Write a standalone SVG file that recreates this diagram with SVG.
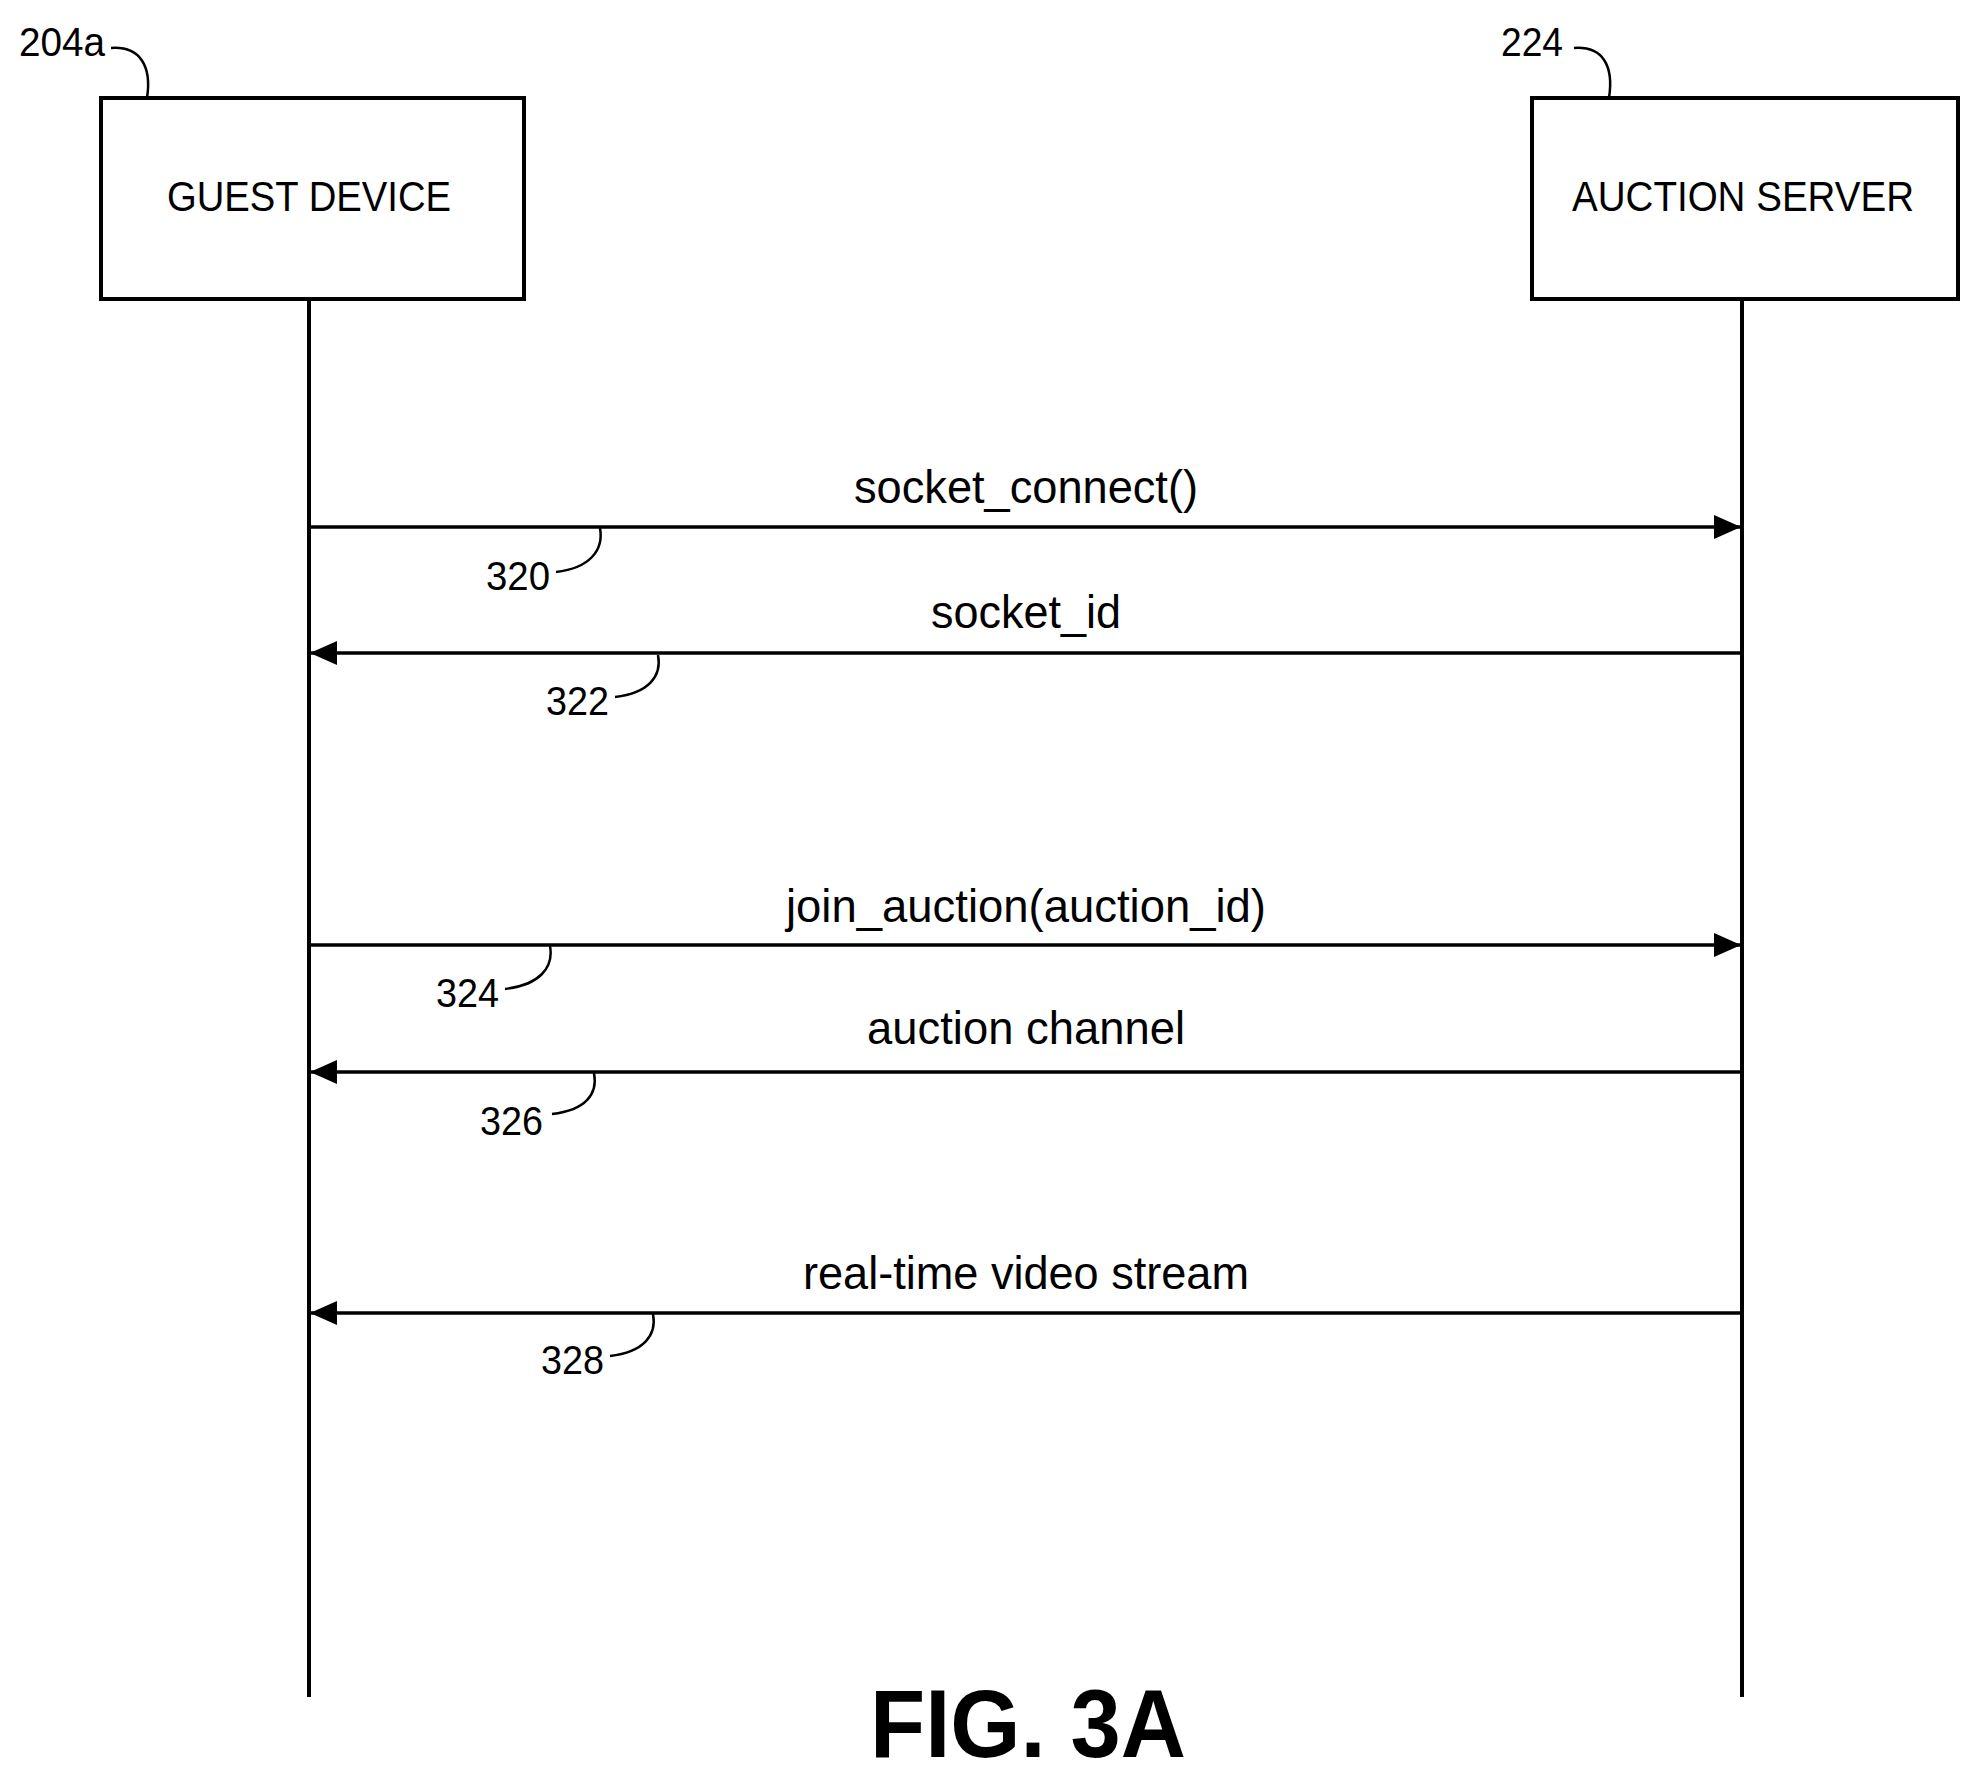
<svg xmlns="http://www.w3.org/2000/svg" width="1981" height="1777" viewBox="0 0 1981 1777">
<style>
.box{fill:#fff;stroke:#000;stroke-width:4}
.ll{stroke:#000;stroke-width:4}
.msg{stroke:#000;stroke-width:3.5}
.lead{fill:none;stroke:#000;stroke-width:2.5}
text{font-family:"Liberation Sans",Arial,sans-serif;fill:#000}
.lbl{font-size:46px}
.ref{font-size:40px}
.node{font-size:42px}
</style>
<defs>
<marker id="ah" markerWidth="28" markerHeight="24" refX="27" refY="12" orient="auto" markerUnits="userSpaceOnUse">
<path d="M0,0 L27,12 L0,24 Z" fill="#000"/>
</marker>
</defs>
<rect width="1981" height="1777" fill="#fff"/>
<g id="guest">
<rect class="box" x="101" y="98" width="423" height="201"/>
<text class="node" x="309" y="211" text-anchor="middle" textLength="284" lengthAdjust="spacingAndGlyphs">GUEST DEVICE</text>
<line class="ll" x1="309" y1="299" x2="309" y2="1697"/>
<text class="ref" x="19" y="56" textLength="86" lengthAdjust="spacingAndGlyphs">204a</text>
<path class="lead" d="M111,48 C140,46 152,66 147,98"/>
</g>
<g id="server">
<rect class="box" x="1532" y="98" width="426" height="201"/>
<text class="node" x="1743" y="211" text-anchor="middle" textLength="342" lengthAdjust="spacingAndGlyphs">AUCTION SERVER</text>
<line class="ll" x1="1742" y1="299" x2="1742" y2="1697"/>
<text class="ref" x="1501" y="56" textLength="62" lengthAdjust="spacingAndGlyphs">224</text>
<path class="lead" d="M1574,48 C1603,46 1614,66 1609,98"/>
</g>
<g id="connectors">
<line class="msg" x1="309" y1="527" x2="1741" y2="527" marker-end="url(#ah)"/>
<text class="lbl" x="1026" y="503" text-anchor="middle" textLength="344" lengthAdjust="spacingAndGlyphs">socket_connect()</text>
<text class="ref" x="486" y="590" textLength="64" lengthAdjust="spacingAndGlyphs">320</text>
<path class="lead" d="M556,572 C590,568 604,550 600,528"/>

<line class="msg" x1="1742" y1="653" x2="310" y2="653" marker-end="url(#ah)"/>
<text class="lbl" x="1026" y="628" text-anchor="middle" textLength="190" lengthAdjust="spacingAndGlyphs">socket_id</text>
<text class="ref" x="546" y="715" textLength="63" lengthAdjust="spacingAndGlyphs">322</text>
<path class="lead" d="M615,697 C649,693 662,676 658,655"/>

<line class="msg" x1="309" y1="945" x2="1741" y2="945" marker-end="url(#ah)"/>
<text class="lbl" x="1026" y="922" text-anchor="middle" textLength="480" lengthAdjust="spacingAndGlyphs">join_auction(auction_id)</text>
<text class="ref" x="436" y="1007" textLength="63" lengthAdjust="spacingAndGlyphs">324</text>
<path class="lead" d="M505,989 C539,985 554,968 550,946"/>

<line class="msg" x1="1742" y1="1072" x2="310" y2="1072" marker-end="url(#ah)"/>
<text class="lbl" x="1026" y="1044" text-anchor="middle" textLength="318" lengthAdjust="spacingAndGlyphs">auction channel</text>
<text class="ref" x="480" y="1135" textLength="63" lengthAdjust="spacingAndGlyphs">326</text>
<path class="lead" d="M552,1114 C586,1110 598,1094 594,1073"/>

<line class="msg" x1="1742" y1="1313" x2="310" y2="1313" marker-end="url(#ah)"/>
<text class="lbl" x="1026" y="1289" text-anchor="middle" textLength="446" lengthAdjust="spacingAndGlyphs">real-time video stream</text>
<text class="ref" x="541" y="1374" textLength="63" lengthAdjust="spacingAndGlyphs">328</text>
<path class="lead" d="M610,1356 C644,1352 657,1335 653,1314"/>
</g>
<text x="1028" y="1757" text-anchor="middle" font-size="96" font-weight="bold" textLength="316" lengthAdjust="spacingAndGlyphs">FIG. 3A</text>
</svg>
